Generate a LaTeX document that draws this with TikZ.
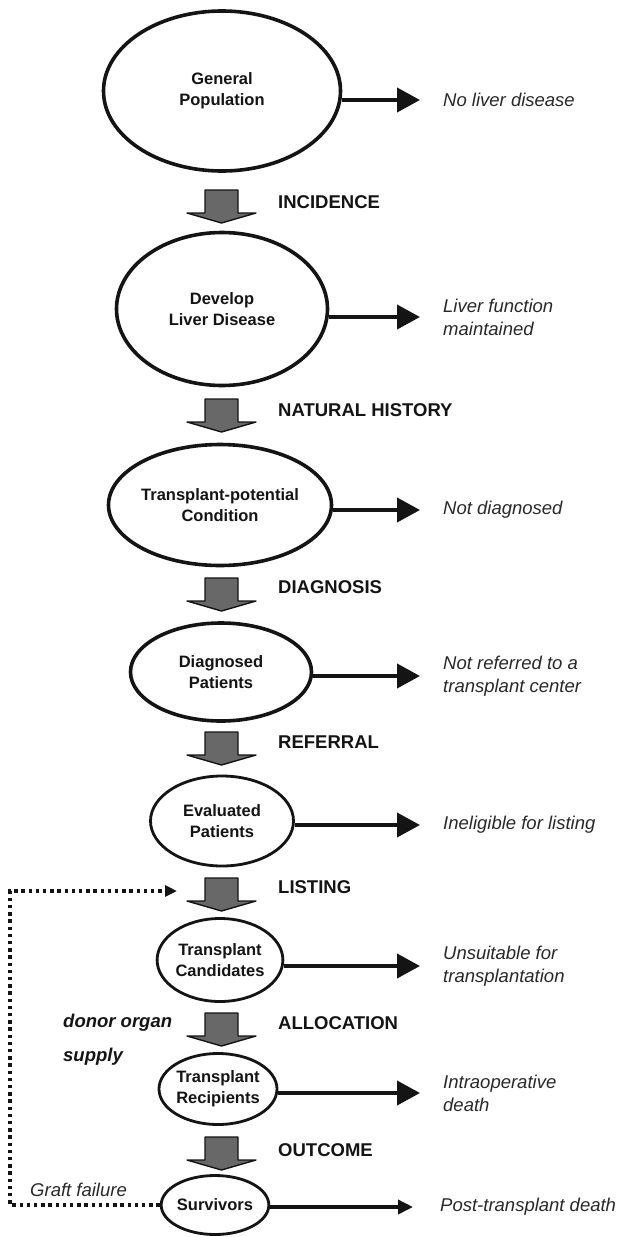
\documentclass[tikz,border=0pt]{standalone}
\usepackage{fontspec}
\setmainfont{Liberation Sans}
\usetikzlibrary{arrows.meta,shapes.geometric}
\definecolor{blkfill}{RGB}{104,104,104}
\definecolor{ink}{RGB}{20,20,20}
\definecolor{itink}{RGB}{40,40,40}
\tikzset{
 stage/.style={ellipse, draw=ink, fill=white, inner sep=0pt, align=center, text=ink,
   font=\fontsize{16.5}{21}\selectfont\bfseries},
 heavy/.style={line width=3.6pt},
 medium/.style={line width=2.8pt},
 steplabel/.style={anchor=west, inner sep=0pt, text=ink, font=\fontsize{18.5}{22}\selectfont\bfseries},
 outcome/.style={anchor=west, inner sep=0pt, align=left, text=itink, font=\fontsize{18.5}{23}\selectfont\itshape},
 sidenote/.style={anchor=west, inner sep=0pt, align=left, text=ink, font=\fontsize{18.5}{22}\selectfont\bfseries\itshape},
 outarr/.style={draw=ink, line width=4pt, -{Triangle[length=23pt,width=24pt]}},
 smallarr/.style={draw=ink, line width=3.5pt, -{Triangle[length=15pt,width=14pt]}},
 loopline/.style={draw=ink, line width=3.4pt, dash pattern=on 3.4pt off 3.8pt, -{Triangle[length=12pt,width=11pt]}},
 blockarrow/.pic={\draw[draw=ink, fill=blkfill, line width=1.4pt, line join=round]
   (-16.5,0) -- (16.5,0) -- (16.5,23) -- (34.5,23) -- (0,33) -- (-34.5,23) -- (-16.5,23) -- cycle;},
}
\begin{document}
\begin{tikzpicture}[x=1pt,y=-1pt]
\useasboundingbox (0,0) rectangle (620,1237);

% stages
\node[stage, heavy, minimum width=237pt, minimum height=160pt] (gp)  at (222,91)   {General\\Population};
\node[stage, heavy, minimum width=211pt, minimum height=153pt] (dld) at (222,309)  {Develop\\Liver Disease};
\node[stage, heavy, minimum width=200pt, minimum height=121pt] (tpc) at (220,505)  {Transplant-potential\\Condition};
\node[stage, heavy, minimum width=181pt, minimum height=98pt]  (dp)  at (221,672)  {Diagnosed\\Patients};
\node[stage, medium, minimum width=143pt, minimum height=90pt] (ep)  at (222,821)  {Evaluated\\Patients};
\node[stage, medium, minimum width=119pt, minimum height=83pt] (tc)  at (220,960)  {Transplant\\Candidates};
\node[stage, medium, minimum width=104pt, minimum height=71pt] (tr)  at (218,1089) {Transplant\\Recipients};
\node[stage, medium, minimum width=87pt,  minimum height=59pt] (sv)  at (215,1205) {Survivors};

% block arrows
\pic at (221.5,190)  {blockarrow};
\pic at (221.5,399)  {blockarrow};
\pic at (221.5,578)  {blockarrow};
\pic at (221.5,732)  {blockarrow};
\pic at (221.5,878)  {blockarrow};
\pic at (221.5,1013) {blockarrow};
\pic at (221.5,1137) {blockarrow};

% step labels
\node[steplabel] (l1) at (278,202)  {INCIDENCE};
\node[steplabel] (l2) at (278,410)  {NATURAL HISTORY};
\node[steplabel] (l3) at (278,587)  {DIAGNOSIS};
\node[steplabel] (l4) at (278,742)  {REFERRAL};
\node[steplabel] (l5) at (278,887)  {LISTING};
\node[steplabel] (l6) at (278,1023) {ALLOCATION};
\node[steplabel] (l7) at (278,1150) {OUTCOME};

% outcomes
\node[outcome] (o1) at (443,100)  {No liver disease};
\node[outcome] (o2) at (443,317)  {Liver function\\maintained};
\node[outcome] (o3) at (443,510)  {Not diagnosed};
\node[outcome] (o4) at (443,676)  {Not referred to a\\transplant center};
\node[outcome] (o5) at (443,825)  {Ineligible for listing};
\node[outcome] (o6) at (443,966)  {Unsuitable for\\transplantation};
\node[outcome] (o7) at (443,1093) {Intraoperative\\death};
\node[outcome] (o8) at (440,1207) {Post-transplant death};

\draw[outarr] (gp.east |- o1.west)  -- ([xshift=-23pt]o1.west);
\draw[outarr] (dld.east |- o2.west) -- ([xshift=-23pt]o2.west);
\draw[outarr] (tpc.east |- o3.west) -- ([xshift=-23pt]o3.west);
\draw[outarr] (dp.east |- o4.west)  -- ([xshift=-23pt]o4.west);
\draw[outarr] (ep.east |- o5.west)  -- ([xshift=-23pt]o5.west);
\draw[outarr] (tc.east |- o6.west)  -- ([xshift=-23pt]o6.west);
\draw[outarr] (tr.east |- o7.west)  -- ([xshift=-23pt]o7.west);
\draw[smallarr] (sv.east |- o8.west) -- ([xshift=-27pt]o8.west);

% side notes
\node[sidenote] (donor) at (63,1040) {donor organ\\[12pt]supply};
\node[outcome] (gf) at (30,1190) {Graft failure};

% graft failure loop
\coordinate (loopcorner) at (10,891);
\coordinate (looptip) at (177,891);
\draw[loopline] (sv.west) -| (loopcorner) -- (looptip);

\end{tikzpicture}
\end{document}
